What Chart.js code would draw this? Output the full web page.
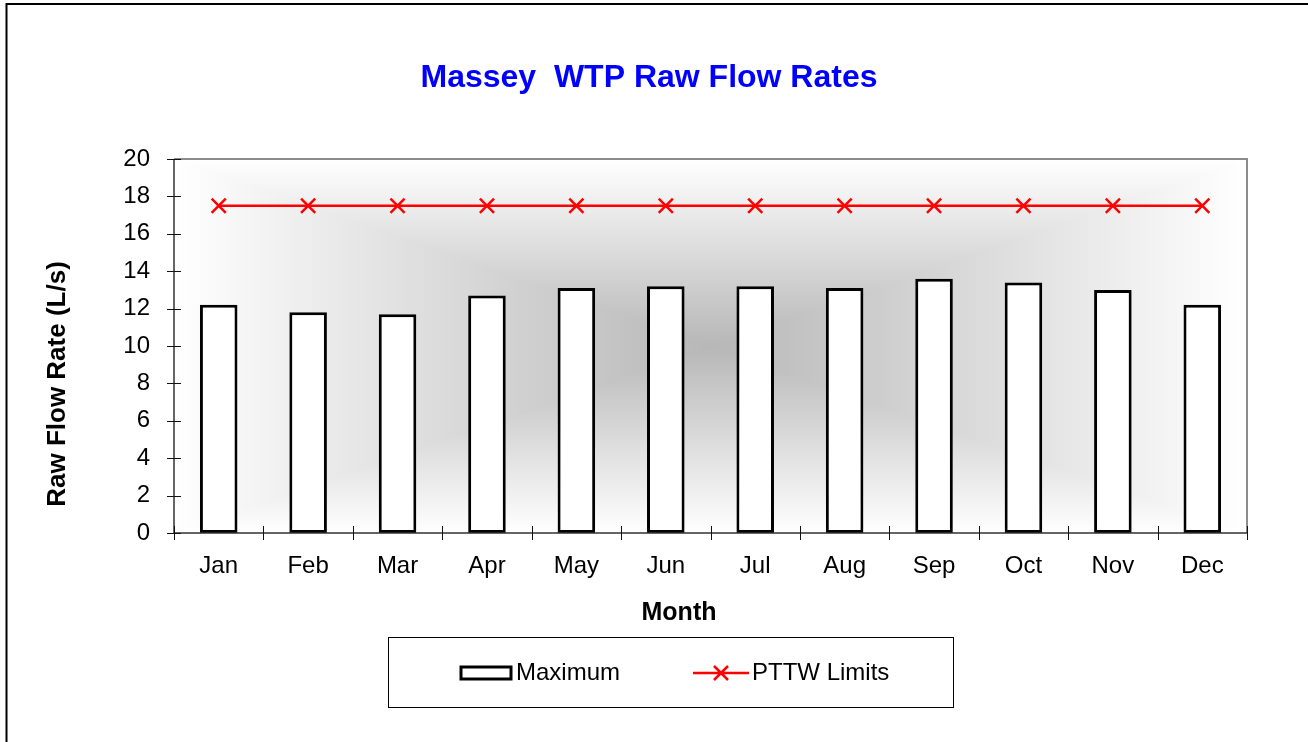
<!DOCTYPE html>
<html>
<head>
<meta charset="utf-8">
<script src="https://cdn.jsdelivr.net/npm/chart.js@4.4.0/dist/chart.umd.min.js"></script>
<style>
    body { margin: 0; background: #fff; }
    #wrap { width: 1308px; height: 742px; }
</style>
</head>
<body>
<div id="wrap"><canvas id="myChart" width="1308" height="742"></canvas></div>
<script>
// dane z wykresu
var months = ["Jan", "Feb", "Mar", "Apr", "May", "Jun", "Jul", "Aug", "Sep", "Oct", "Nov", "Dec"];
var maximum = [12.2, 11.8, 11.7, 12.7, 13.1, 13.2, 13.2, 13.1, 13.6, 13.4, 13.0, 12.2];
var pttwLimits = [17.5, 17.5, 17.5, 17.5, 17.5, 17.5, 17.5, 17.5, 17.5, 17.5, 17.5, 17.5];
var yTicks = [0, 2, 4, 6, 8, 10, 12, 14, 16, 18, 20];

var chartTitle = 'Massey  WTP Raw Flow Rates';
var yTitle = 'Raw Flow Rate (L/s)';
var xTitle = 'Month';

var FONT = "Arial, 'Liberation Sans', sans-serif";

// tlo obszaru wykresu - gradient prostokatny od srodka
var plotBackground = {
    id: 'plotBackground',
    beforeDatasetsDraw: function (chart) {
        var a = chart.chartArea;
        var ctx = chart.ctx;
        var l = Math.round(a.left), t = Math.round(a.top);
        var w = Math.round(a.right) - l, h = Math.round(a.bottom) - t;
        var img = ctx.createImageData(w, h);
        var hw = w / 2, hh = h / 2;
        for (var y = 0; y < h; y++) {
            for (var x = 0; x < w; x++) {
                var k = Math.max(Math.abs(x - hw) / hw, Math.abs(y - hh) / hh);
                var c = Math.round(255 - 72 * (1 - k));
                var i = (y * w + x) * 4;
                img.data[i] = c; img.data[i + 1] = c; img.data[i + 2] = c; img.data[i + 3] = 255;
            }
        }
        ctx.putImageData(img, l, t);
    }
};

// ramka, osie, kreski podzialki, tytuly, legenda i ramka calosci
var chartFrame = {
    id: 'chartFrame',
    afterDatasetsDraw: function (chart) {
        var a = chart.chartArea;
        var ctx = chart.ctx;
        ctx.save();
        ctx.strokeStyle = '#8c8c8c';
        ctx.lineWidth = 2;
        ctx.beginPath();
        ctx.moveTo(a.left, a.top);
        ctx.lineTo(a.right, a.top);
        ctx.lineTo(a.right, a.bottom);
        ctx.stroke();

        ctx.strokeStyle = '#333';
        ctx.lineWidth = 1.5;
        ctx.beginPath();
        ctx.moveTo(a.left, a.top);
        ctx.lineTo(a.left, a.bottom);
        ctx.lineTo(a.right, a.bottom);
        ctx.stroke();

        // kreski przecinajace os
        ctx.strokeStyle = '#111';
        ctx.lineWidth = 1;
        ctx.beginPath();
        var ys = chart.scales.y;
        yTicks.forEach(function (v) {
            var py = Math.round(ys.getPixelForValue(v)) + 0.5;
            ctx.moveTo(a.left - 7, py);
            ctx.lineTo(a.left + 7, py);
        });
        var xs = chart.scales.x;
        for (var i = 0; i <= months.length; i++) {
            var px = Math.round(xs.getPixelForValue(i - 0.5)) + 0.5;
            ctx.moveTo(px, a.bottom - 7);
            ctx.lineTo(px, a.bottom + 7);
        }
        ctx.stroke();
        ctx.restore();
    },
    afterDraw: function (chart) {
        var ctx = chart.ctx;
        var bar = chart.data.datasets[0];
        var line = chart.data.datasets[1];
        ctx.save();

        // tytul
        ctx.fillStyle = '#0000ff';
        ctx.font = 'bold 32px ' + FONT;
        ctx.textAlign = 'center';
        ctx.textBaseline = 'middle';
        ctx.fillText(chartTitle, 649, 78);

        // tytul osi X
        ctx.fillStyle = '#000';
        ctx.font = 'bold 25px ' + FONT;
        ctx.fillText(xTitle, 679, 613);

        // tytul osi Y
        ctx.save();
        ctx.translate(58, 384);
        ctx.rotate(-Math.PI / 2);
        ctx.font = 'bold 26px ' + FONT;
        ctx.fillText(yTitle, 0, 0);
        ctx.restore();

        // ramka calego wykresu
        ctx.strokeStyle = '#000';
        ctx.lineWidth = 2;
        ctx.beginPath();
        ctx.moveTo(6.5, 742);
        ctx.lineTo(6.5, 4);
        ctx.lineTo(1308, 4);
        ctx.stroke();

        // legenda
        ctx.lineWidth = 1;
        ctx.strokeRect(388.5, 637.5, 565, 70);

        var cy = 673;
        ctx.fillStyle = bar.backgroundColor;
        ctx.fillRect(461, 667, 50, 12);
        ctx.strokeStyle = bar.borderColor;
        ctx.lineWidth = 3;
        ctx.strokeRect(461, 667, 50, 12);

        ctx.strokeStyle = line.borderColor;
        ctx.lineWidth = 2.5;
        ctx.beginPath();
        ctx.moveTo(693, cy);
        ctx.lineTo(749, cy);
        ctx.moveTo(714, cy - 7);
        ctx.lineTo(728, cy + 7);
        ctx.moveTo(728, cy - 7);
        ctx.lineTo(714, cy + 7);
        ctx.stroke();

        ctx.fillStyle = '#000';
        ctx.font = '24px ' + FONT;
        ctx.textBaseline = 'middle';
        ctx.textAlign = 'left';
        ctx.fillText(bar.label, 516, cy);
        ctx.fillText(line.label, 752, cy);
        ctx.restore();
    }
};

var ctx = document.getElementById('myChart').getContext('2d');

var chart = new Chart(ctx, {
    data: {
        labels: months,
        datasets: [{
            type: 'bar',
            label: 'Maximum',
            data: maximum,
            backgroundColor: '#ffffff',
            borderColor: '#000000',
            borderWidth: 3,
            borderSkipped: false,
            barPercentage: 0.42,
            categoryPercentage: 1,
            order: 1
        },
        {
            type: 'line',
            label: 'PTTW Limits',
            data: pttwLimits,
            borderColor: '#ff0000',
            backgroundColor: '#ff0000',
            borderWidth: 2.5,
            pointStyle: 'crossRot',
            pointRadius: 10,
            pointBorderWidth: 2.5,
            pointBorderColor: '#ff0000',
            tension: 0,
            fill: false,
            order: 0
        }]
    },
    options: {
        responsive: false,
        animation: false,
        layout: {
            padding: { left: 0, right: 61, top: 159, bottom: 109 }
        },
        plugins: {
            legend: { display: false },
            tooltip: { enabled: false },
            title: { display: false }
        },
        scales: {
            x: {
                offset: true,
                grid: { display: false },
                border: { display: false },
                ticks: {
                    color: '#000',
                    font: { family: FONT, size: 24 },
                    padding: 11,
                    maxRotation: 0
                },
                afterFit: function (scale) {
                    scale.height = 100;
                }
            },
            y: {
                min: 0,
                max: 20,
                grid: { display: false },
                border: { display: false },
                ticks: {
                    stepSize: 2,
                    color: '#000',
                    font: { family: FONT, size: 24 },
                    padding: 16
                },
                afterFit: function (scale) {
                    scale.width = 174;
                }
            }
        }
    },
    plugins: [plotBackground, chartFrame]
});
</script>
</body>
</html>
